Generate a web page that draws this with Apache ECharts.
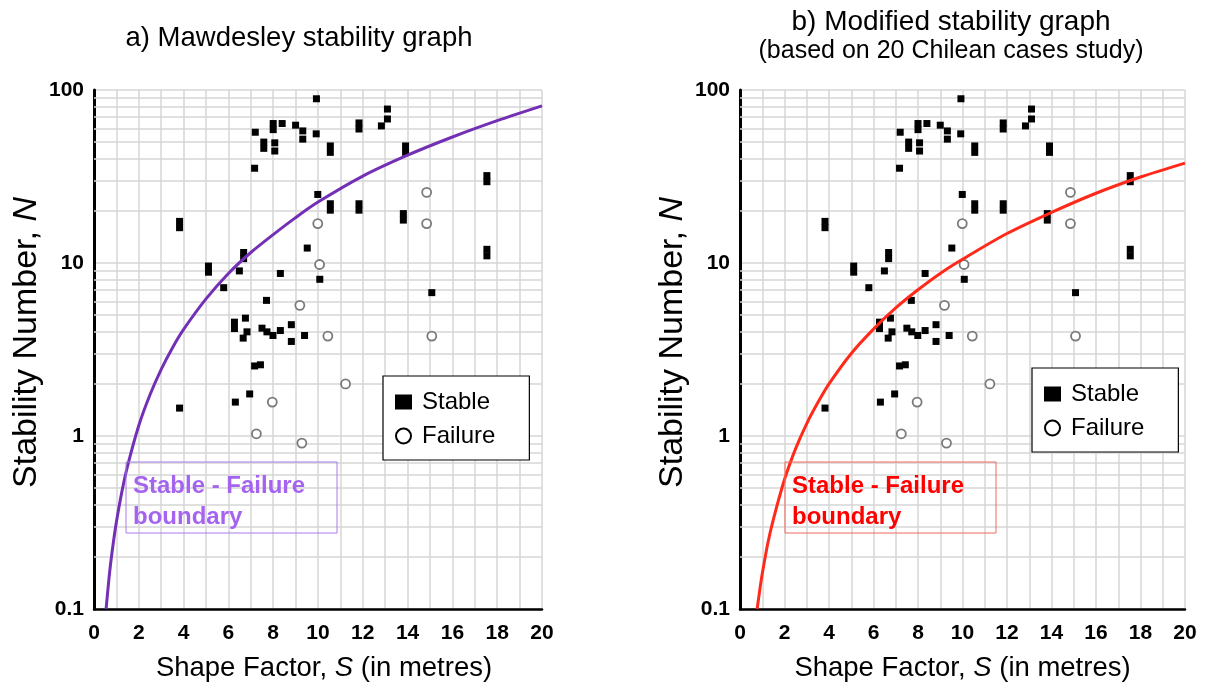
<!DOCTYPE html>
<html><head><meta charset="utf-8">
<script src="https://cdn.jsdelivr.net/npm/echarts@6/dist/echarts.min.js"></script>
<style>html,body{margin:0;padding:0;background:#fff}#c{width:1208px;height:690px}</style>
</head><body><div id="c"></div>
<script>
// Shape factor S (m) and stability number N for stable cases
const stableS = [3.82,3.82,3.82,5.11,5.11,5.79,6.27,6.27,6.31,6.49,6.68,6.68,6.76,6.83,6.66,6.95,7.17,7.43,7.2,7.17,7.58,7.58,7.5,7.72,7.7,7.99,8.0,8.0,8.07,8.07,8.32,8.32,8.4,8.81,8.81,9.0,9.32,9.32,9.4,9.52,9.92,9.93,9.99,10.08,10.55,10.55,10.55,10.55,11.83,11.83,11.83,11.83,12.83,13.1,13.1,13.81,13.81,13.91,13.91,15.08,17.54,17.54,17.54,17.54];
const stableN = [17.4,16.0,1.45,9.6,8.85,7.2,4.55,4.18,1.57,9.0,11.5,10.6,4.8,4.0,3.68,1.75,2.54,2.58,57,35.3,50,46,4.2,4.0,6.08,3.81,64,59,49.5,44.4,8.7,4.07,64,4.4,3.52,62.6,58,52,3.81,12.2,55.8,89,24.9,8.05,47.5,43.6,22,20.2,64.5,59.5,22,20.2,62,77.6,68,19.3,17.7,47.5,43.6,6.74,32,29.5,12,11];
// Failure cases
const failureS = [9.99,10.07,9.19,10.44,7.96,7.25,9.28,11.23,14.85,14.85,15.08];
const failureN = [16.9,9.8,5.69,3.78,1.57,1.03,0.91,2.0,25.6,16.9,3.78];
// Stable - failure boundary, a) Mawdesley (read along the curve)
const mawdesleyS = [0.54,0.7,0.85,1.0,1.25,1.5,2.0,2.5,3.0,3.5,4.0,5.0,6.0,7.0,8.0,9.0,10,12,14,16,18,20];
const mawdesleyN = [0.1,0.164,0.235,0.318,0.48,0.673,1.15,1.73,2.43,3.23,4.13,6.2,8.7,11.5,14.6,18.3,22.5,31.8,42,53.5,66.5,81];
// Stable - failure boundary, b) Modified (read along the curve)
const modifiedS = [0.77,0.9,1.0,1.25,1.5,2.0,2.5,3.0,3.5,4.0,5.0,6.0,7.0,8.0,9.0,10,12,14,16,18,20];
const modifiedN = [0.1,0.132,0.16,0.24,0.33,0.56,0.845,1.18,1.56,2.0,3.0,4.15,5.5,7.0,8.7,10.5,14.8,19.6,25.3,31.4,37.8];
// Axis ticks
const xTickStep = 1;
const xLabelStep = 2;
const yMinorGrid = [0.2,0.3,0.4,0.5,0.6,0.7,0.8,0.9,2,3,4,5,6,7,8,9,20,30,40,50,60,70,80,90];

const FONT = 'Liberation Sans, Arial, sans-serif';
const GRIDC = '#d6d6d6';
const pairs = (a, b) => a.map((v, i) => [v, b[i]]);

const grids = [
  {left: 94, right: 666, top: 90, bottom: 81},
  {left: 740, right: 23, top: 90, bottom: 81}
];

function xAxisFor(i) {
  return {
    type: 'value', gridIndex: i, min: 0, max: 20, interval: xTickStep,
    axisLine: {onZero: false, lineStyle: {color: '#000', width: 2.5}},
    axisTick: {show: false},
    splitLine: {show: true, lineStyle: {color: GRIDC, width: 1.5}},
    axisLabel: {formatter: v => (v % xLabelStep === 0 ? String(v) : ''), fontWeight: 'bold', fontSize: 21, color: '#000', margin: 14, fontFamily: FONT},
    name: '{n|Shape Factor, }{i|S}{n| (in metres)}', nameLocation: 'middle', nameGap: 45,
    nameTextStyle: {fontFamily: FONT, padding: i === 0 ? [0, 0, 0, 12] : 0,
      rich: {n: {fontSize: 27.5, color: '#000', fontFamily: FONT}, i: {fontSize: 27.5, color: '#000', fontStyle: 'italic', fontFamily: FONT}}}
  };
}
function yAxisFor(i) {
  return {
    type: 'log', logBase: 10, gridIndex: i, min: 0.1, max: 100,
    axisLine: {show: true, lineStyle: {color: '#000', width: 3}},
    axisTick: {show: false},
    splitLine: {show: true, lineStyle: {color: GRIDC, width: 1.5}},
    axisLabel: {fontWeight: 'bold', fontSize: 21, color: '#000', margin: 10, fontFamily: FONT},
    name: '{n|Stability Number, }{i|N}', nameLocation: 'middle', nameRotate: 90, nameGap: 50,
    nameTextStyle: {fontFamily: FONT, padding: [0, 0, 0, 14],
      rich: {n: {fontSize: 34, color: '#000', fontFamily: FONT}, i: {fontSize: 34, color: '#000', fontStyle: 'italic', fontFamily: FONT}}}
  };
}
function seriesFor(i, curveS, curveN, color) {
  return [
    {type: 'line', name: 'minor', xAxisIndex: i, yAxisIndex: i, data: [], silent: true, z: 1,
      markLine: {silent: true, z: 1, symbol: 'none', label: {show: false}, animation: false,
        lineStyle: {color: GRIDC, width: 1.5, type: 'solid'},
        emphasis: {disabled: true},
        data: yMinorGrid.map(v => ({yAxis: v}))}},
    {type: 'scatter', name: 'Stable', xAxisIndex: i, yAxisIndex: i, data: pairs(stableS, stableN),
      symbol: 'rect', symbolSize: [7, 7], itemStyle: {color: '#000', opacity: 1}, z: 6},
    {type: 'scatter', name: 'Failure', xAxisIndex: i, yAxisIndex: i, data: pairs(failureS, failureN),
      symbol: 'circle', symbolSize: 9, itemStyle: {color: '#fff', borderColor: '#7a7a7a', borderWidth: 1.8, opacity: 1}, z: 6},
    {type: 'line', name: 'boundary' + i, xAxisIndex: i, yAxisIndex: i, data: pairs(curveS, curveN),
      smooth: 0.3, showSymbol: false, symbol: 'none', lineStyle: {color: color, width: 3}, z: 7}
  ];
}
function legendFor(left, top) {
  return {
    left: left, top: top, orient: 'vertical', selectedMode: false,
    backgroundColor: '#fff', borderColor: '#000', borderWidth: 1.2,
    padding: [14, 34, 12, 12], itemGap: 10, itemWidth: 17, itemHeight: 15,
    textStyle: {fontSize: 24, color: '#000', fontFamily: FONT, padding: [0, 0, 0, 5]},
    data: [
      {name: 'Stable', icon: 'rect', itemStyle: {color: '#000', borderWidth: 0, opacity: 1}},
      {name: 'Failure', icon: 'circle', itemStyle: {color: '#fff', borderColor: '#000', borderWidth: 2, opacity: 1}}
    ]
  };
}
function boxFor(x, y, w, h, stroke, fill) {
  return {
    type: 'group', children: [
      {type: 'rect', shape: {x: x, y: y, width: w, height: h}, style: {fill: 'none', stroke: stroke, lineWidth: 1}, z: 10},
      {type: 'text', x: x + 7, y: y + 9, style: {text: 'Stable - Failure\nboundary', font: 'bold 24px ' + FONT, fill: fill, lineHeight: 31}, z: 10}
    ]
  };
}

const chart = echarts.init(document.getElementById('c'), null, {renderer: 'canvas'});
chart.setOption({
  animation: false,
  backgroundColor: '#fff',
  title: [
    {text: 'a) Mawdesley stability graph', left: 294, textAlign: 'center', top: 19,
      textStyle: {fontSize: 27.5, fontWeight: 'normal', color: '#000', fontFamily: FONT}},
    {text: 'b) Modified stability graph', subtext: '(based on 20 Chilean cases study)', left: 946, textAlign: 'center', top: 3, itemGap: 3,
      textStyle: {fontSize: 28, fontWeight: 'normal', color: '#000', fontFamily: FONT},
      subtextStyle: {fontSize: 25, color: '#000', fontFamily: FONT}}
  ],
  grid: grids,
  xAxis: [xAxisFor(0), xAxisFor(1)],
  yAxis: [yAxisFor(0), yAxisFor(1)],
  legend: [legendFor(383, 376), legendFor(1032, 368)],
  series: [].concat(seriesFor(0, mawdesleyS, mawdesleyN, '#7330b4'), seriesFor(1, modifiedS, modifiedN, '#ff2a1a')),
  graphic: [boxFor(126, 462, 211, 71, '#a77ce6', '#a564f0'), boxFor(785, 462, 211, 71, '#f26a5a', '#ff0000')]
});
</script></body></html>
